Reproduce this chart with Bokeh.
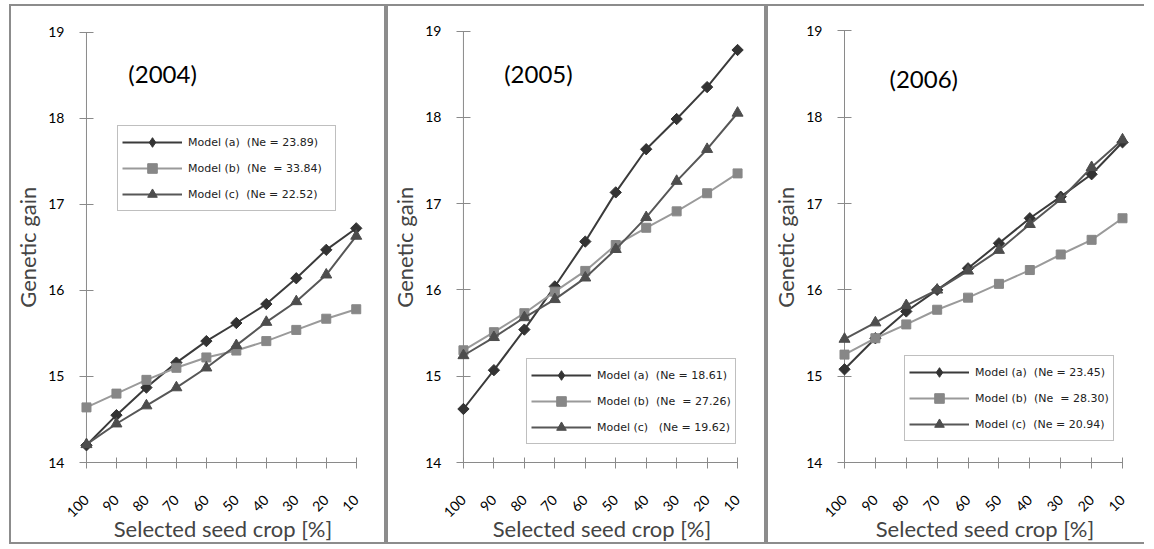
import math

from bokeh.embed import file_html
from bokeh.layouts import row
from bokeh.models import FixedTicker, Label, Legend, LegendItem, Range1d
from bokeh.plotting import figure
from bokeh.resources import INLINE

# ---------------------------------------------------------------- data
selected_pct = [100, 90, 80, 70, 60, 50, 40, 30, 20, 10]
gain_ticks = [14, 15, 16, 17, 18, 19]
year_labels = ["(2004)", "(2005)", "(2006)"]

gain_a_2004 = [14.20, 14.55, 14.87, 15.16, 15.41, 15.62, 15.84, 16.14, 16.47, 16.72]
gain_b_2004 = [14.64, 14.80, 14.96, 15.10, 15.22, 15.30, 15.41, 15.54, 15.67, 15.78]
gain_c_2004 = [14.21, 14.45, 14.66, 14.87, 15.10, 15.36, 15.63, 15.87, 16.18, 16.63]

gain_a_2005 = [14.62, 15.07, 15.54, 16.04, 16.56, 17.13, 17.63, 17.98, 18.35, 18.78]
gain_b_2005 = [15.30, 15.51, 15.73, 15.98, 16.22, 16.52, 16.72, 16.91, 17.12, 17.35]
gain_c_2005 = [15.24, 15.45, 15.68, 15.89, 16.14, 16.47, 16.84, 17.26, 17.63, 18.05]

gain_a_2006 = [15.08, 15.44, 15.75, 16.00, 16.25, 16.54, 16.83, 17.08, 17.34, 17.71]
gain_b_2006 = [15.25, 15.44, 15.60, 15.77, 15.91, 16.07, 16.23, 16.41, 16.58, 16.83]
gain_c_2006 = [15.43, 15.62, 15.82, 16.00, 16.22, 16.46, 16.76, 17.05, 17.42, 17.74]

legend_2004 = ["Model (a)  (Ne = 23.89)", "Model (b)  (Ne  = 33.84)", "Model (c)  (Ne = 22.52)"]
legend_2005 = ["Model (a)  (Ne = 18.61)", "Model (b)  (Ne  = 27.26)", "Model (c)   (Ne = 19.62)"]
legend_2006 = ["Model (a)  (Ne = 23.45)", "Model (b)  (Ne  = 28.30)", "Model (c)  (Ne = 20.94)"]

# ---------------------------------------------------------------- styles
SERIES_STYLE = [
    dict(line="#3b3b3b", fill="#333333", marker="square", angle=math.pi / 4, size=8, key="diamond"),
    dict(line="#9a9a9a", fill="#878787", marker="square", angle=0.0, size=9, key=None),
    dict(line="#575757", fill="#4d4d4d", marker="triangle", angle=0.0, size=11, key=None),
]
AXIS_GREY = "#8a8a8a"
BORDER = "2px solid #8c8c8c"
FONT = "Lato"

CONTENT_TOP = 6
CONTENT_H = 540
Y_AXIS_PX = 462  # pixel row of the lowest gain tick
FRAME_BOTTOM = Y_AXIS_PX + 1

# per-panel pixel geometry (page coordinates)
GEOMETRY = [
    dict(left=11, width=377, axis=85, last=355.7, top_tick=31.5, top=25, right=366,
         title=(127, 73), legend=(38, 252), legend_label_w=143,
         styles={"border": BORDER}),
    dict(left=392, width=380, axis=465, last=741, top_tick=30.5, top=25, right=751,
         title=(506, 73), legend=(70, 19), legend_label_w=130,
         styles={"border": BORDER}),
    dict(left=776, width=378, axis=852, last=1130, top_tick=27.5, top=22, right=1140,
         title=(897, 75), legend=(67, 22), legend_label_w=131,
         styles={"border-left": BORDER, "border-top": BORDER, "border-bottom": BORDER}),
]


def make_panel(title, series, names, g):
    frame_left = g["axis"] - 7
    px_per_pct = (g["last"] - g["axis"]) / (selected_pct[0] - selected_pct[-1])
    x_start = selected_pct[0] + (g["axis"] - frame_left) / px_per_pct
    x_end = selected_pct[-1] - (g["right"] - g["last"]) / px_per_pct
    px_per_gain = (Y_AXIS_PX - g["top_tick"]) / (gain_ticks[-1] - gain_ticks[0])
    y_start = gain_ticks[0] - (FRAME_BOTTOM - Y_AXIS_PX) / px_per_gain
    y_end = gain_ticks[-1] + (g["top_tick"] - g["top"]) / px_per_gain

    p = figure(
        width=g["width"], height=CONTENT_H,
        x_range=Range1d(x_start, x_end), y_range=Range1d(y_start, y_end),
        output_backend="svg", toolbar_location=None,
        min_border_left=frame_left - g["left"],
        min_border_right=g["left"] + g["width"] - g["right"],
        min_border_top=g["top"] - CONTENT_TOP,
        min_border_bottom=CONTENT_TOP + CONTENT_H - FRAME_BOTTOM,
        background_fill_color="white", border_fill_color="white",
        styles=g["styles"],
    )
    p.outline_line_color = None
    p.xgrid.visible = False
    p.ygrid.visible = False

    # axis lines run from the first to the last category / tick
    p.segment(x0=[selected_pct[0]], y0=[gain_ticks[0]], x1=[selected_pct[-1]], y1=[gain_ticks[0]],
              line_color=AXIS_GREY, line_width=1)
    p.segment(x0=[selected_pct[0]], y0=[gain_ticks[0]], x1=[selected_pct[0]], y1=[gain_ticks[-1]],
              line_color=AXIS_GREY, line_width=1)

    xa = p.xaxis[0]
    xa.ticker = FixedTicker(ticks=selected_pct)
    xa.axis_line_color = None
    xa.major_tick_line_color = AXIS_GREY
    xa.major_tick_in = 6
    xa.major_tick_out = 5
    xa.minor_tick_line_color = None
    xa.major_label_orientation = math.pi / 4
    xa.major_label_standoff = 29
    xa.major_label_text_font = FONT
    xa.major_label_text_font_size = "14px"
    xa.major_label_text_color = "#000000"
    xa.axis_label = "Selected seed crop [%]"
    xa.axis_label_text_font = FONT
    xa.axis_label_text_font_size = "22px"
    xa.axis_label_text_font_style = "normal"
    xa.axis_label_standoff = -10

    ya = p.yaxis[0]
    ya.ticker = FixedTicker(ticks=gain_ticks)
    ya.axis_line_color = None
    ya.major_tick_line_color = AXIS_GREY
    ya.major_tick_in = 14
    ya.major_tick_out = 0
    ya.minor_tick_line_color = None
    ya.major_label_standoff = 15
    ya.major_label_text_font = FONT
    ya.major_label_text_font_size = "14px"
    ya.major_label_text_color = "#000000"
    ya.axis_label = "Genetic  gain"
    ya.axis_label_text_font = FONT
    ya.axis_label_text_font_size = "22px"
    ya.axis_label_text_font_style = "normal"
    ya.axis_label_standoff = 4

    items = []
    for values, name, st in zip(series, names, SERIES_STYLE):
        ln = p.line(selected_pct, values, line_color=st["line"], line_width=2)
        mk = p.scatter(selected_pct, values, marker=st["marker"], angle=st["angle"], size=st["size"],
                       fill_color=st["fill"], line_color=st["fill"])
        if st["key"]:
            # the legend swatch uses an upright diamond marker
            key = p.scatter(selected_pct, values, marker=st["key"], size=11,
                            fill_color=st["fill"], line_color=st["fill"], visible=False)
            items.append(LegendItem(label=name, renderers=[ln, key]))
        else:
            items.append(LegendItem(label=name, renderers=[ln, mk]))

    legend = Legend(
        items=items, location=g["legend"], margin=0, padding=4, spacing=2,
        glyph_width=60, glyph_height=24, label_height=24, label_standoff=6,
        label_width=g["legend_label_w"],
        label_text_font="DejaVu Sans", label_text_font_size="11px", label_text_color="#222222",
        border_line_color="#7f7f7f", border_line_width=1, background_fill_color="white",
        background_fill_alpha=1.0, inactive_fill_alpha=0.0,
    )
    p.add_layout(legend)

    tx, ty = g["title"]
    p.add_layout(Label(
        x=x_start - (tx - frame_left) / px_per_pct,
        y=gain_ticks[0] + (Y_AXIS_PX - ty) / px_per_gain,
        text=title, text_font=FONT, text_font_size="24px", text_baseline="middle",
        text_align="left", text_color="#000000",
    ))
    return p


panels = [
    make_panel(year_labels[0], [gain_a_2004, gain_b_2004, gain_c_2004], legend_2004, GEOMETRY[0]),
    make_panel(year_labels[1], [gain_a_2005, gain_b_2005, gain_c_2005], legend_2005, GEOMETRY[1]),
    make_panel(year_labels[2], [gain_a_2006, gain_b_2006, gain_c_2006], legend_2006, GEOMETRY[2]),
]

layout = row(*panels, spacing=0, margin=(4, 0, 0, 9))

open("out.html", "w").write(file_html(layout, INLINE))
